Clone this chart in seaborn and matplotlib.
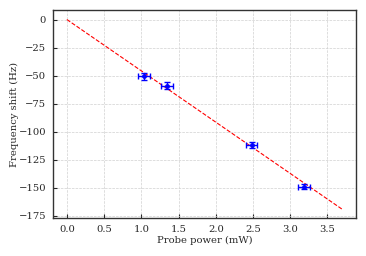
import numpy as np
import pandas as pd
import matplotlib
matplotlib.use("Agg")
import matplotlib.pyplot as plt
import seaborn as sns

# measured points
power = [1.04, 1.34, 2.48, 3.19]
shift = [-50.7, -59.0, -111.8, -148.9]
power_err = [0.08, 0.08, 0.07, 0.08]
shift_err = [3.0, 3.0, 2.5, 2.5]

# linear fit line
fit_x = [0.0, 3.7]
fit_y = [0.0, -169.2]

sns.set_style("ticks")
plt.rcParams['font.family'] = 'DejaVu Serif'
plt.rcParams['mathtext.fontset'] = 'dejavuserif'

fig, ax = plt.subplots(figsize=(3.66, 2.56), dpi=100)

sns.lineplot(x=fit_x, y=fit_y, ax=ax, color='red', linestyle='--', linewidth=0.8)
ax.errorbar(power, shift, xerr=power_err, yerr=shift_err, fmt='o', color='blue',
            markersize=2.5, elinewidth=1.0, capsize=2, capthick=1.0)

ax.set_xticks([0.0, 0.5, 1.0, 1.5, 2.0, 2.5, 3.0, 3.5])
ax.set_yticks([0, -25, -50, -75, -100, -125, -150, -175])
ax.set_xlim(-0.185, 3.885)
ax.set_ylim(-177, 8.5)

ax.grid(True, linestyle='--', color='#d0d0d0', linewidth=0.5)
ax.tick_params(direction='in', labelsize=7.2, length=3, pad=5)
ax.set_xlabel('Probe power (mW)', fontsize=7.2, labelpad=1)
ax.set_ylabel('Frequency shift (Hz)', fontsize=7.2, labelpad=0)
for s in ax.spines.values():
    s.set_linewidth(1.0)
    s.set_color('#333333')

fig.subplots_adjust(left=0.145, right=0.973, top=0.961, bottom=0.148)
fig.savefig('out.png', dpi=100)
